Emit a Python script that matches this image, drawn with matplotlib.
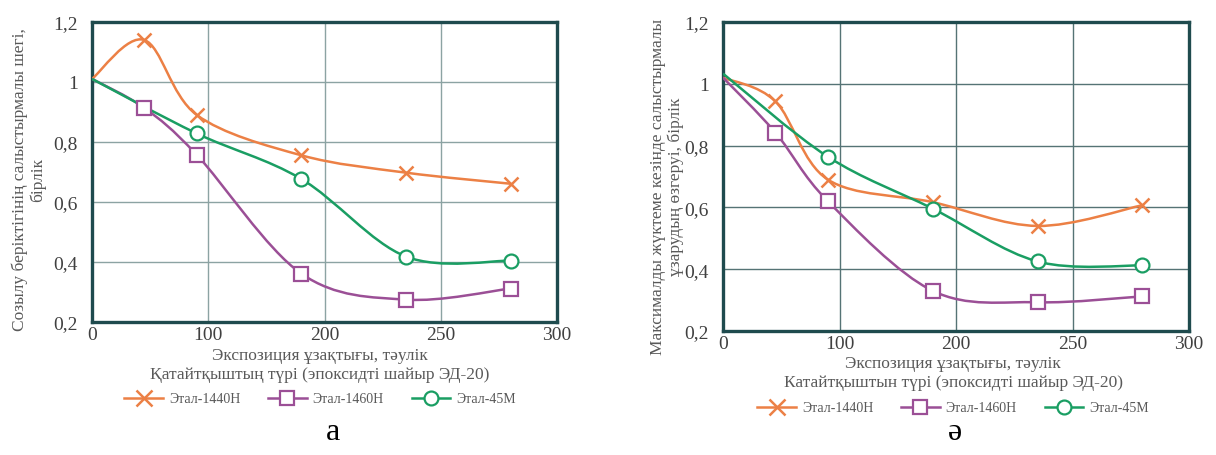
import matplotlib
matplotlib.use("Agg")
import matplotlib.pyplot as plt
from matplotlib.path import Path
from matplotlib.patches import PathPatch
from matplotlib.lines import Line2D

plt.rcParams['font.family'] = ['Liberation Serif', 'DejaVu Serif']

# ---- data ----
days = [0, 45, 90, 180, 270, 360]          # exposure (drawn on 0..400 scale)
days_45m = [0, 90, 180, 270, 360]
xtick_pos = [0, 100, 200, 300, 400]
xtick_labels = ["0", "100", "200", "250", "300"]
ytick_vals = [0.2, 0.4, 0.6, 0.8, 1.0, 1.2]
ytick_labels = ["0,2", "0,4", "0,6", "0,8", "1", "1,2"]

series_names = ["Этал-1440Н", "Этал-1460Н", "Этал-45М"]

# panel a: relative tensile strength
a_1440 = [1.01, 1.14, 0.89, 0.755, 0.697, 0.66]
a_1460 = [1.01, 0.913, 0.757, 0.36, 0.273, 0.31]
a_45m = [1.01, 0.828, 0.676, 0.417, 0.403]

# panel ə: relative elongation change at max load
b_1440 = [1.02, 0.943, 0.69, 0.617, 0.54, 0.607]
b_1460 = [1.02, 0.842, 0.62, 0.33, 0.293, 0.312]
b_45m = [1.033, 0.764, 0.596, 0.425, 0.412]

colors = ["#EC8045", "#9B4F96", "#1A9E63"]
markers = ["x", "s", "o"]

W, H = 1216, 456
fig = plt.figure(figsize=(W / 100, H / 100), dpi=100)


def smooth_path(xs, ys, t=1.0 / 6.0):
    pts = list(zip(xs, ys))
    n = len(pts)
    verts = [pts[0]]
    codes = [Path.MOVETO]
    for i in range(n - 1):
        p0 = pts[i - 1] if i > 0 else pts[i]
        p1 = pts[i]
        p2 = pts[i + 1]
        p3 = pts[i + 2] if i + 2 < n else pts[i + 1]
        c1 = (p1[0] + (p2[0] - p0[0]) * t, p1[1] + (p2[1] - p0[1]) * t)
        c2 = (p2[0] - (p3[0] - p1[0]) * t, p2[1] - (p3[1] - p1[1]) * t)
        verts += [c1, c2, p2]
        codes += [Path.CURVE4, Path.CURVE4, Path.CURVE4]
    return Path(verts, codes)


def px_rect(l, r, t, b):
    return [l / W, 1 - b / H, (r - l) / W, (b - t) / H]


def make_panel(rect, data, gridc, ylabel, xl1, xl2, tag, cx, tagx, y_l1, y_l2, y_leg, ylab_x, ylab_y):
    ax = fig.add_axes(rect)
    ax.set_xlim(0, 400)
    ax.set_ylim(0.2, 1.2)
    ax.set_xticks(xtick_pos)
    ax.set_xticklabels(xtick_labels)
    ax.set_yticks(ytick_vals)
    ax.set_yticklabels(ytick_labels)
    ax.tick_params(length=0, labelsize=14, labelcolor="#404040")
    ax.tick_params(axis='x', pad=3)
    ax.tick_params(axis='y', pad=10)
    ax.grid(True, color=gridc, linewidth=1.0)
    ax.set_axisbelow(True)
    for s in ax.spines.values():
        s.set_color("#1F4B4E")
        s.set_linewidth(2.4)
    handles = []
    for (xs, ys), c, m, name in zip(data, colors, markers, series_names):
        ax.add_patch(PathPatch(smooth_path(xs, ys), facecolor="none", edgecolor=c,
                               linewidth=1.8, zorder=3))
        if m == "x":
            ax.plot(xs[1:], ys[1:], ls="none", marker=m, ms=10, mew=1.8, color=c, zorder=4)
            h = Line2D([], [], color=c, marker=m, ms=11, mew=1.8, lw=1.8)
        else:
            ax.plot(xs[1:], ys[1:], ls="none", marker=m, ms=10, mew=1.6, mec=c, mfc="white", zorder=4)
            h = Line2D([], [], color=c, marker=m, ms=10, mew=1.6, mec=c, mfc="white", lw=1.8)
        handles.append(h)
    fig.text(ylab_x / W, 1 - ylab_y / H, ylabel, rotation=90, ha="center", va="center",
             fontsize=12.5, color="#595959", linespacing=1.1)
    fig.text(cx / W, 1 - y_l1 / H, xl1, ha="center", va="center", fontsize=12.5, color="#595959")
    fig.text(cx / W, 1 - y_l2 / H, xl2, ha="center", va="center", fontsize=12.5, color="#595959")
    fig.legend(handles=handles, labels=series_names, loc="center", bbox_to_anchor=(cx / W, 1 - y_leg / H),
               ncol=3, frameon=False, fontsize=10, labelcolor="#595959", handlelength=2.8,
               handletextpad=0.4, columnspacing=2.0)
    fig.text(tagx / W, 1 - 433 / H, tag, ha="center", va="center", fontsize=23, color="black")
    return ax


make_panel(px_rect(92, 557, 23, 322.5),
           [(days, a_1440), (days, a_1460), (days_45m, a_45m)],
           "#8CA3A3",
           "Созылу беріктігінің салыстырмалы шегі,\nбірлік",
           "Экспозиция ұзақтығы, тәулік",
           "Қатайтқыштың түрі (эпоксидті шайыр ЭД-20)",
           "а", 320, 333, 356, 375, 400, 29, 180)

make_panel(px_rect(723, 1189, 23, 332),
           [(days, b_1440), (days, b_1460), (days_45m, b_45m)],
           "#557375",
           "Максималды жүктеме кезінде салыстырмалы\nұзарудың өзгеруі, бірлік",
           "Экспозиция ұзақтығы, тәулік",
           "Катайтқыштын түрі (эпоксидті шайыр ЭД-20)",
           "ә", 953, 955, 364, 383, 409, 667, 187)

fig.savefig("out.png", dpi=100)
